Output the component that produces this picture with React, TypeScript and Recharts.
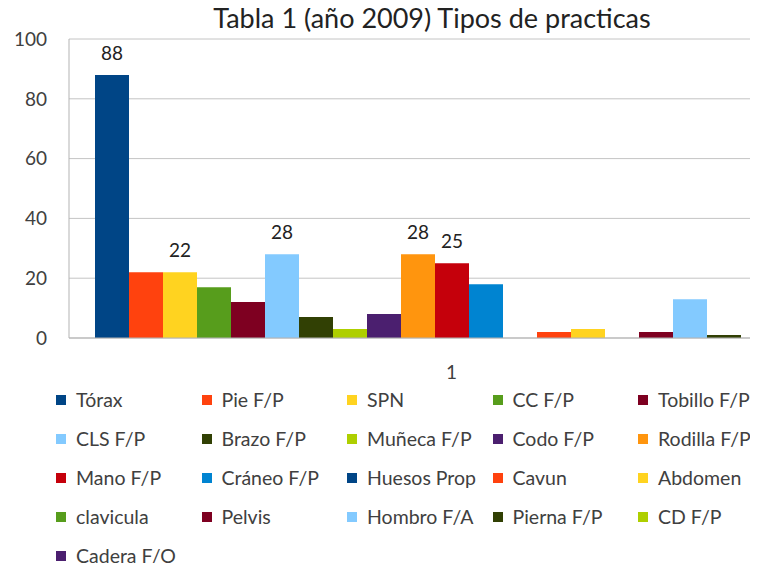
import { Bar, BarChart, CartesianGrid, LabelList, XAxis, YAxis } from "recharts";

const categories = ["1"];

const seriesNames = [
  "Tórax", "Pie F/P", "SPN", "CC F/P", "Tobillo F/P",
  "CLS F/P", "Brazo F/P", "Muñeca F/P", "Codo F/P", "Rodilla F/P",
  "Mano F/P", "Cráneo F/P", "Huesos Prop", "Cavun", "Abdomen",
  "clavicula", "Pelvis", "Hombro F/A", "Pierna F/P", "CD F/P",
  "Cadera F/O",
];

const seriesValues = [88, 22, 22, 17, 12, 28, 7, 3, 8, 28, 25, 18, 0, 2, 3, 0, 2, 13, 1, 0, 0];

const seriesColors = [
  "#004586", "#ff420e", "#ffd320", "#579d1c", "#7e0021",
  "#83caff", "#314004", "#aecf00", "#4b1f6f", "#ff950e",
  "#c5000b", "#0084d1", "#004586", "#ff420e", "#ffd320",
  "#579d1c", "#7e0021", "#83caff", "#314004", "#aecf00",
  "#4b1f6f",
];

// only these bars carry a value label in the original
const labeledSeries = ["Tórax", "SPN", "CLS F/P", "Rodilla F/P", "Mano F/P"];

const yTicks = [0, 20, 40, 60, 80, 100];

const chartData = categories.map((name) => {
  const row: Record<string, string | number> = { name };
  seriesNames.forEach((_, i) => {
    row[`s${i}`] = seriesValues[i];
  });
  return row;
});

const font = "Lato, 'Open Sans', sans-serif";
const textColor = "#404040";

const App = () => {
  return (
    <div
      style={{
        position: "relative",
        width: 758,
        height: 571,
        margin: -8,
        overflow: "hidden",
        background: "#fff",
        fontFamily: font,
      }}
    >
      <div
        style={{
          position: "absolute",
          left: 0,
          top: 0,
          width: 864,
          height: 36,
          lineHeight: "36px",
          textAlign: "center",
          fontSize: 27,
          color: "#222",
        }}
      >
        Tabla 1 (año 2009) Tipos de practicas
      </div>

      <BarChart
        width={840}
        height={571}
        data={chartData}
        margin={{ top: 39, right: 6, bottom: 193, left: 0 }}
        barCategoryGap={26}
        barGap={0}
        style={{ fontFamily: font }}
      >
        <CartesianGrid vertical={false} stroke="#c4c4c4" />
        <XAxis
          dataKey="name"
          height={40}
          tickLine={false}
          tickSize={0}
          tickMargin={28}
          stroke="#b3b3b3"
          tick={{ fill: textColor, fontSize: 19 }}
        />
        <YAxis
          width={69}
          domain={[0, 100]}
          ticks={yTicks}
          interval={0}
          tickLine={false}
          tickSize={0}
          tickMargin={22}
          stroke="#b3b3b3"
          tick={{ fill: textColor, fontSize: 19 }}
        />
        {seriesNames.map((s, i) => (
          <Bar
            key={s}
            dataKey={`s${i}`}
            name={s}
            fill={seriesColors[i]}
            isAnimationActive={false}
          >
            {labeledSeries.includes(s) && (
              <LabelList
                dataKey={`s${i}`}
                position="top"
                offset={15}
                fill="#222"
                fontSize={19}
              />
            )}
          </Bar>
        ))}
      </BarChart>

      {seriesNames.map((s, i) => {
        const col = i % 5;
        const row = Math.floor(i / 5);
        return (
          <div
            key={s}
            style={{
              position: "absolute",
              left: 56 + col * 145.5,
              top: 400 + row * 39 - 12,
              height: 24,
              lineHeight: "24px",
              display: "flex",
              alignItems: "center",
              fontSize: 19.5,
              color: textColor,
              whiteSpace: "nowrap",
            }}
          >
            <span
              style={{
                display: "inline-block",
                width: 10,
                height: 10,
                background: seriesColors[i],
                marginRight: 10,
              }}
            />
            {s}
          </div>
        );
      })}
    </div>
  );
};

export default App;
